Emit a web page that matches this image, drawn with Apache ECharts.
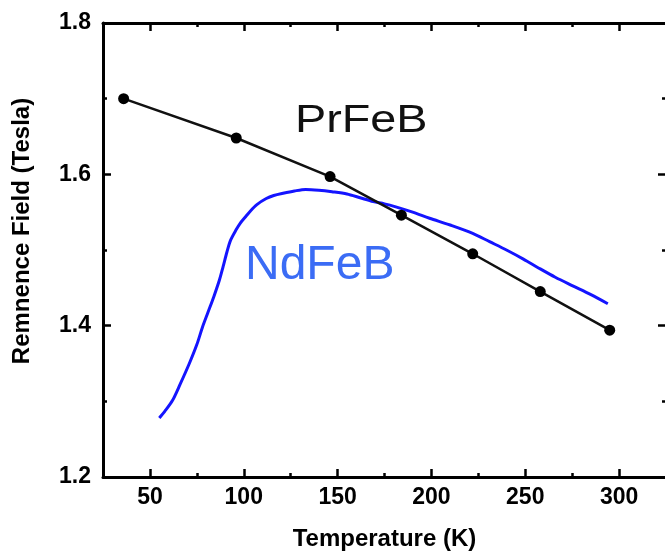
<!DOCTYPE html>
<html>
<head>
<meta charset="utf-8">
<script src="https://cdn.jsdelivr.net/npm/echarts@6/dist/echarts.min.js"></script>
<style>
  html, body { margin: 0; padding: 0; background: #fff; }
  #chart { width: 665px; height: 552px; }
</style>
</head>
<body>
<div id="chart"></div>
<script>
// Remanent field vs temperature for two magnet alloys
const prTemps = [36, 96, 146, 184, 222, 258, 295];
const prField = [1.70, 1.648, 1.597, 1.546, 1.495, 1.445, 1.394];

const ndTemps = [55, 58, 62, 66, 71, 75, 78, 81, 84, 87, 89, 91, 93, 96, 98, 101, 103, 107, 112, 116, 121, 127, 133, 140, 147, 155, 162, 169, 175, 181, 190, 199, 210, 222, 231, 240, 249, 258, 266, 275, 285, 294];
const ndField = [1.278, 1.287, 1.301, 1.322, 1.350, 1.375, 1.398, 1.418, 1.438, 1.460, 1.478, 1.497, 1.513, 1.527, 1.535, 1.544, 1.550, 1.560, 1.568, 1.572, 1.575, 1.578, 1.580, 1.579, 1.577, 1.574, 1.569, 1.564, 1.561, 1.557, 1.550, 1.542, 1.533, 1.522, 1.511, 1.500, 1.488, 1.475, 1.464, 1.453, 1.441, 1.429];

const xRange = [25, 325];
const yRange = [1.2, 1.8];
const xMajor = [50, 100, 150, 200, 250, 300];
const xMinor = [75, 125, 175, 225, 275];
const yStep = 0.2;

const FONT = '"Liberation Sans", Arial, sans-serif';
const LABEL = { fontFamily: FONT, fontWeight: 'bold', fontSize: 23, color: '#000' };

const pairs = (xs, ys) => xs.map((x, i) => [x, ys[i]]);

const lineStyle = { color: '#000', width: 3 };
const tickStyle = { color: '#000', width: 2.5 };

// x axes: major ticks with labels, plus a second overlaid axis for the short minor ticks
function xAxisPair(position, withLabels) {
  const major = {
    type: 'value', position, min: xRange[0], max: xRange[1],
    axisLine: { show: true, onZero: false, lineStyle },
    axisTick: { show: true, inside: true, length: 8, customValues: xMajor, lineStyle: tickStyle },
    axisLabel: withLabels
      ? Object.assign({ margin: 9, customValues: xMajor }, LABEL)
      : { show: false },
    splitLine: { show: false }
  };
  const minor = {
    type: 'value', position, min: xRange[0], max: xRange[1], offset: 0,
    axisLine: { show: false, onZero: false },
    axisTick: { show: true, inside: true, length: 4, customValues: xMinor, lineStyle: tickStyle },
    axisLabel: { show: false },
    splitLine: { show: false }
  };
  return [major, minor];
}

const xAxes = xAxisPair('bottom', true).concat(xAxisPair('top', false));
xAxes[0].name = 'Temperature (K)';
xAxes[0].nameLocation = 'middle';
xAxes[0].nameGap = 50;
xAxes[0].nameTextStyle = { fontFamily: FONT, fontWeight: 'bold', fontSize: 24, color: '#000' };

function yAxis(position, withLabels, showLine) {
  return {
    type: 'value', position, min: yRange[0], max: yRange[1], interval: yStep,
    axisLine: { show: showLine, onZero: false, lineStyle },
    axisTick: { show: true, inside: true, length: 8, lineStyle: tickStyle },
    minorTick: { show: true, splitNumber: 2, length: 4, lineStyle: tickStyle },
    axisLabel: withLabels
      ? Object.assign({ margin: 12, formatter: v => v.toFixed(1) }, LABEL)
      : { show: false },
    splitLine: { show: false },
    minorSplitLine: { show: false }
  };
}

const chart = echarts.init(document.getElementById('chart'), null, { renderer: 'canvas' });

chart.setOption({
  animation: false,
  backgroundColor: '#fff',
  grid: { left: 103, top: 23, width: 563, height: 454, containLabel: false, outerBoundsMode: 'none' },
  xAxis: xAxes,
  yAxis: [yAxis('left', true, true), yAxis('right', false, false)],
  series: [
    {
      name: 'PrFeB',
      type: 'line',
      data: pairs(prTemps, prField),
      symbol: 'circle',
      symbolSize: 11,
      itemStyle: { color: '#000' },
      lineStyle: { color: '#111', width: 2.5 },
      z: 3
    },
    {
      name: 'NdFeB',
      type: 'line',
      data: pairs(ndTemps, ndField),
      smooth: 0.3,
      showSymbol: false,
      symbol: 'none',
      lineStyle: { color: '#1414ff', width: 3 },
      z: 2
    }
  ],
  graphic: [
    {
      type: 'text', x: 22, y: 231, rotation: Math.PI / 2,
      style: {
        text: 'Remnence Field (Tesla)', fill: '#000',
        font: 'bold 24px ' + FONT, textAlign: 'center', textVerticalAlign: 'middle'
      }
    },
    {
      type: 'text', x: 295, y: 122, scaleX: 1.23,
      style: {
        text: 'PrFeB', fill: '#111',
        font: '38px ' + FONT, textAlign: 'left', textVerticalAlign: 'middle'
      }
    },
    {
      type: 'text', x: 245, y: 266,
      style: {
        text: 'NdFeB', fill: '#3b6cf5',
        font: '48px ' + FONT, textAlign: 'left', textVerticalAlign: 'middle'
      }
    }
  ]
});
</script>
</body>
</html>
